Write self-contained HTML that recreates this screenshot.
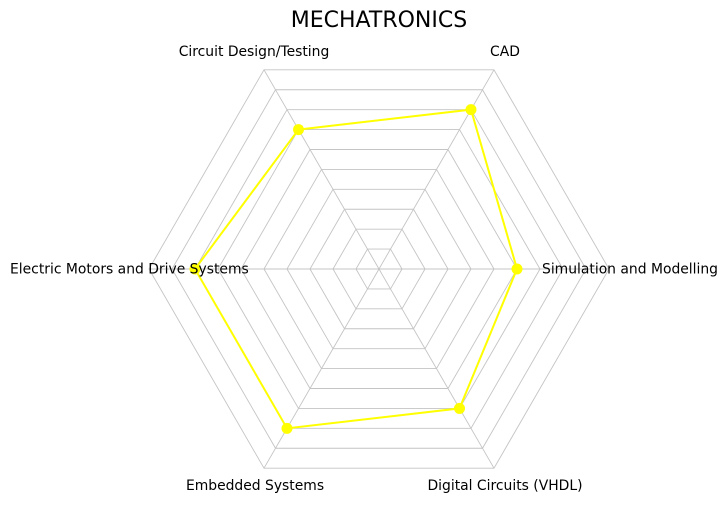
<!DOCTYPE html>
<html><head><meta charset="utf-8"><style>
html,body{margin:0;padding:0;background:#fff;}
svg{display:block;font-family:"DejaVu Sans","Liberation Sans",sans-serif;}
</style></head><body>
<svg width="728" height="510" viewBox="0 0 728 510" xmlns="http://www.w3.org/2000/svg">
<rect width="728" height="510" fill="#fff"/>
<g fill="none" stroke="#c4c4c4" stroke-width="0.9">
<polygon points="402,269 390.5,249.08 367.5,249.08 356,269 367.5,288.92 390.5,288.92"/>
<polygon points="425,269 402,229.16 356,229.16 333,269 356,308.84 402,308.84"/>
<polygon points="448,269 413.5,209.25 344.5,209.25 310,269 344.5,328.75 413.5,328.75"/>
<polygon points="471,269 425,189.33 333,189.33 287,269 333,348.67 425,348.67"/>
<polygon points="494,269 436.5,169.41 321.5,169.41 264,269 321.5,368.59 436.5,368.59"/>
<polygon points="517,269 448,149.49 310,149.49 241,269 310,388.51 448,388.51"/>
<polygon points="540,269 459.5,129.57 298.5,129.57 218,269 298.5,408.43 459.5,408.43"/>
<polygon points="563,269 471,109.65 287,109.65 195,269 287,428.35 471,428.35"/>
<polygon points="586,269 482.5,89.74 275.5,89.74 172,269 275.5,448.26 482.5,448.26"/>
<polygon points="609,269 494,69.82 264,69.82 149,269 264,468.18 494,468.18"/>
<line x1="379" y1="269" x2="609" y2="269"/>
<line x1="379" y1="269" x2="494" y2="69.82"/>
<line x1="379" y1="269" x2="264" y2="69.82"/>
<line x1="379" y1="269" x2="149" y2="269"/>
<line x1="379" y1="269" x2="264" y2="468.18"/>
<line x1="379" y1="269" x2="494" y2="468.18"/>
</g>
<polygon points="517,269 471,109.65 298.5,129.57 195,269 287,428.35 459.5,408.43" fill="none" stroke="#ffff00" stroke-width="2"/>
<g fill="#ffff00">
<circle cx="517" cy="269" r="5.5"/>
<circle cx="471" cy="109.65" r="5.5"/>
<circle cx="298.5" cy="129.57" r="5.5"/>
<circle cx="195" cy="269" r="5.5"/>
<circle cx="287" cy="428.35" r="5.5"/>
<circle cx="459.5" cy="408.43" r="5.5"/>
</g>
<text x="379" y="27" font-size="22" text-anchor="middle" fill="#000">MECHATRONICS</text>
<g font-size="13.9" fill="#000">
<text x="254" y="56" text-anchor="middle">Circuit Design/Testing</text>
<text x="505" y="56" text-anchor="middle">CAD</text>
<text x="542" y="273.5">Simulation and Modelling</text>
<text x="10" y="273.5">Electric Motors and Drive Systems</text>
<text x="255" y="490" text-anchor="middle">Embedded Systems</text>
<text x="505" y="490" text-anchor="middle">Digital Circuits (VHDL)</text>
</g>
</svg>
</body></html>
